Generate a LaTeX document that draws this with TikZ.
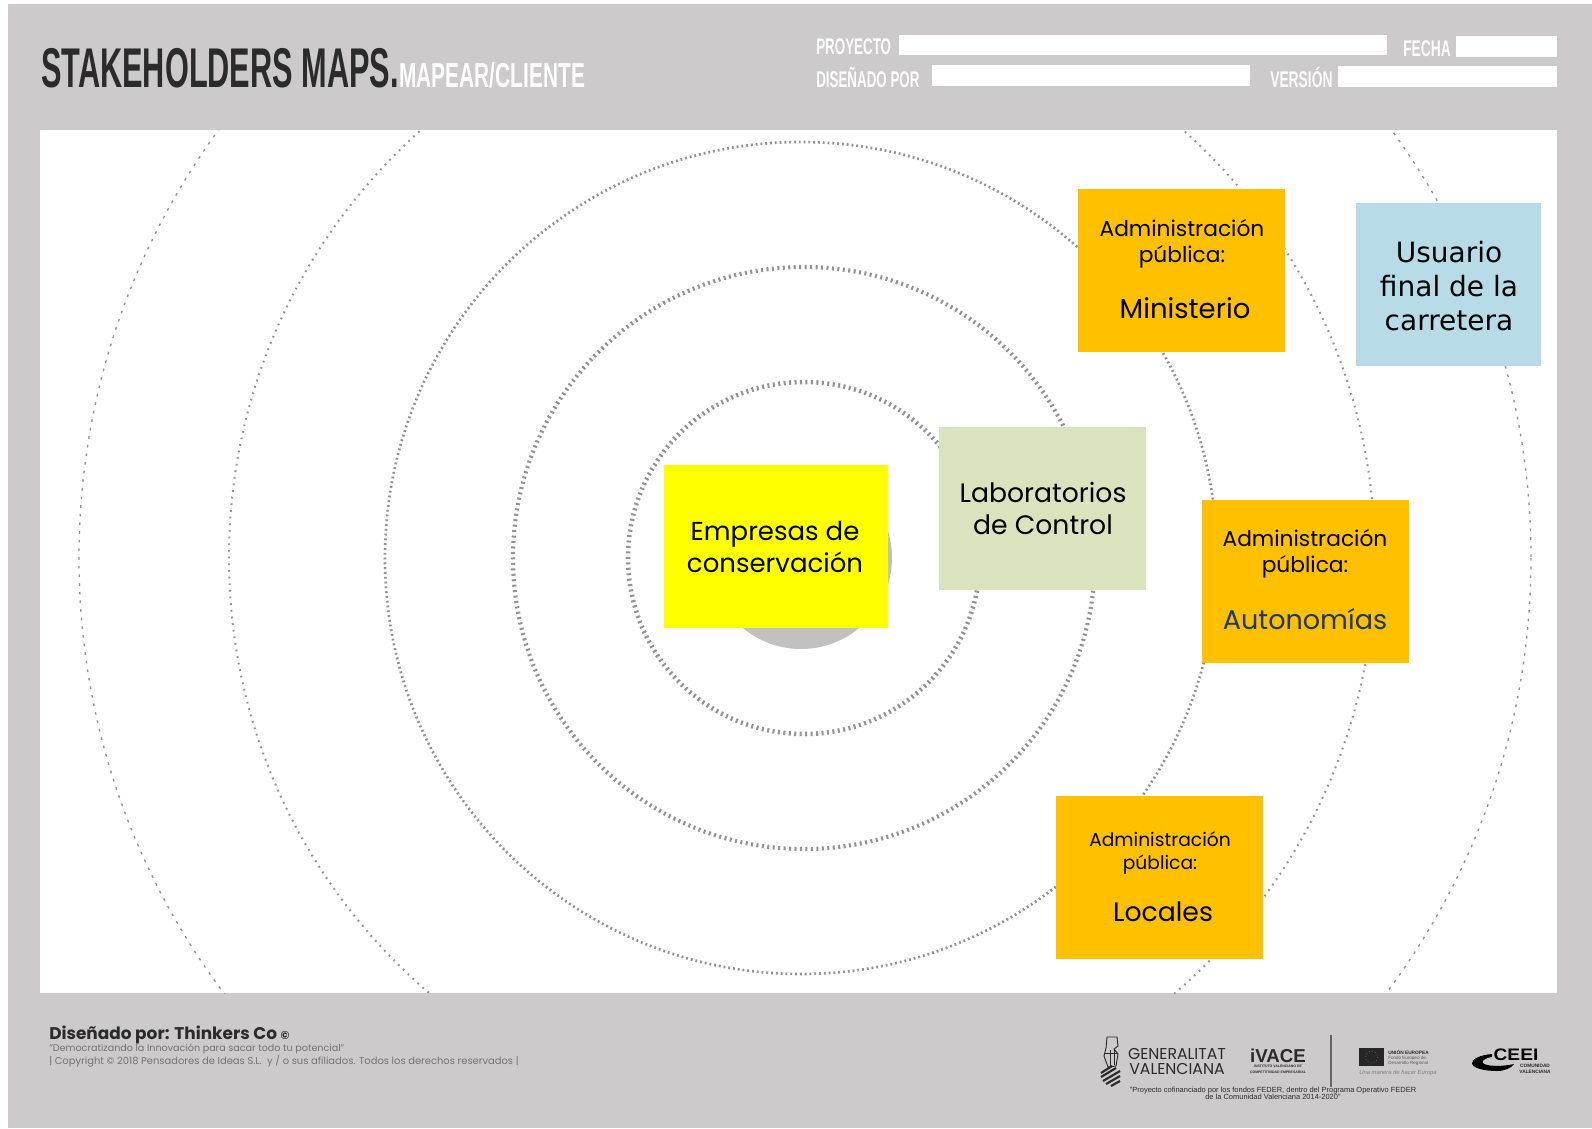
\documentclass[tikz,border=0pt]{standalone}
\usepackage{fontspec}
\usepackage{graphicx}
\usepackage{xcolor}
\setmainfont{Poppins}
\newfontfamily\headfont{Liberation Sans}[BoldFont={Liberation Sans Bold}]
\newfontfamily\usuariofont{DejaVu Sans}
\newfontfamily\smallfont{Liberation Sans}
\definecolor{panelgray}{HTML}{CCCACB}
\definecolor{ringgray}{HTML}{929292}
\definecolor{hubgray}{HTML}{C0C1C0}
\definecolor{notegold}{HTML}{FFC000}
\definecolor{notelemon}{HTML}{FFFF00}
\definecolor{notegreen}{HTML}{D9E4BF}
\definecolor{noteblue}{HTML}{B7DCE8}
\definecolor{autoblue}{HTML}{1F3864}
\definecolor{logodark}{HTML}{2B2B2B}
\newcommand{\squeezed}[3]{\scalebox{#1}[1]{\headfont\bfseries\fontsize{#2}{#2}\selectfont #3}}
\tikzset{
    fieldbox/.style={fill=white,draw=none},
    labeltext/.style={anchor=west,inner sep=0pt,text=white},
    notebox/.style={draw=none,inner sep=0pt,minimum width=155.25pt,minimum height=122.25pt},
    notetext/.style={inner sep=0pt,align=center,text=black},
    logotext/.style={inner sep=0pt,text=logodark},
}
\begin{document}
\begin{tikzpicture}[x=0.75pt,y=0.75pt,yscale=-1,xscale=1]
        \useasboundingbox (0,0) rectangle (1592,1128);
        \fill [panelgray] (8,4) rectangle (1592,1128);
        \fill [white] (40,130) rectangle (1557,993);

        \begin{scope}
        \clip (40,130) rectangle (1557,993);
        \draw [ringgray,line width=1pt,dash pattern=on 2pt off 4.5pt] (805,558) circle (726);
        \draw [ringgray,line width=1.5pt,dash pattern=on 1.3pt off 3.7pt] (802,558) circle (573);
        \draw [ringgray,line width=2pt,dash pattern=on 1.4pt off 2.2pt] (801,558) circle (416);
        \draw [ringgray,line width=3.1pt,dash pattern=on 1.5pt off 2.6pt] (804,558) circle (291);
        \draw [ringgray,line width=3.4pt,dash pattern=on 1.5pt off 2.6pt] (804,558) circle (176);
        \end{scope}
        \fill [hubgray] (801,558) circle (91);

        \node (titlemain) at (41,68) [anchor=west,inner sep=0pt,text=logodark] {\squeezed{0.548}{42pt}{STAKEHOLDERS MAPS.}};
        \node (titlesub) at (399,75) [anchor=west,inner sep=0pt,text=white] {\squeezed{0.603}{26pt}{MAPEAR/CLIENTE}};

        \fill [fieldbox] (899,35) rectangle (1387,55);
        \fill [fieldbox] (1456,36) rectangle (1557,57);
        \fill [fieldbox] (932,65) rectangle (1250,86);
        \fill [fieldbox] (1338,66) rectangle (1557,87);
        \node (proyecto) at (816,47) [labeltext] {\squeezed{0.59}{17pt}{PROYECTO}};
        \node (fecha) at (1403,49) [labeltext] {\squeezed{0.61}{17pt}{FECHA}};
        \node (disenado) at (816,78) [labeltext] {\squeezed{0.59}{17pt}{DISEÑADO POR}};
        \node (version) at (1270,78) [labeltext] {\squeezed{0.61}{17pt}{VERSIÓN}};

        \node (ministerio) at (1181.5,270.5) [notebox,fill=notegold] {};
        \node (usuario) at (1448.5,284.5) [notebox,fill=noteblue,minimum width=138.75pt] {};
        \node (laboratorios) at (1042.5,508.5) [notebox,fill=notegreen] {};
        \node (autonomias) at (1305.5,581.5) [notebox,fill=notegold] {};
        \node (locales) at (1159.5,877.5) [notebox,fill=notegold] {};
        \node (empresas) at (776,546.5) [notebox,fill=notelemon,minimum width=168pt] {};

        \node (ministeriohead) at (1182,244) [notetext,font=\fontsize{16.3pt}{19.5pt}\selectfont] {Administración\\pública:};
        \node (ministerioname) at (1185,308) [notetext,font=\fontsize{20.6pt}{24pt}\selectfont] {Ministerio};
        \node (usuarioname) at (1449,286.5) [notetext,font=\usuariofont\fontsize{21pt}{25.5pt}\selectfont] {Usuario\\final de la\\carretera};
        \node (laboratoriosname) at (1043,508) [notetext,font=\fontsize{20pt}{24pt}\selectfont] {Laboratorios\\de Control};
        \node (autonomiashead) at (1305,554) [notetext,font=\fontsize{16.3pt}{19.5pt}\selectfont] {Administración\\pública:};
        \node (autonomiasname) at (1305,619) [notetext,text=autoblue,font=\fontsize{20.3pt}{24pt}\selectfont] {Autonomías};
        \node (localeshead) at (1160,853) [notetext,font=\fontsize{14pt}{17.5pt}\selectfont] {Administración\\pública:};
        \node (localesname) at (1163,912) [notetext,font=\fontsize{20pt}{24pt}\selectfont] {Locales};
        \node (empresasname) at (775,547) [notetext,font=\fontsize{19.5pt}{24pt}\selectfont] {Empresas de\\conservación};

        \node (credit) at (49,1035) [anchor=west,logotext,font=\bfseries\fontsize{12.7pt}{14pt}\selectfont] {Diseñado por: Thinkers Co {\fontsize{8.5pt}{9pt}\selectfont ©}};
        \node (lema) at (49,1049) [anchor=west,inner sep=0pt,text=black!55,font=\fontsize{7.2pt}{8pt}\selectfont] {"Democratizando la Innovación para sacar todo tu potencial"};
        \node (copyright) at (49,1061) [anchor=west,inner sep=0pt,text=black!55,font=\fontsize{7.45pt}{8pt}\selectfont] {| Copyright © 2018 Pensadores de Ideas S.L.\ \ y / o sus afiliados. Todos los derechos reservados |};

        \draw [logodark,line width=0.7pt] (1107,1037) -- (1117,1037) -- (1118,1046) -- (1114,1049) -- (1118,1054) -- (1116,1066) -- (1108,1067) -- (1104,1056) -- (1106,1048) -- cycle;
        \draw [logodark,line width=0.7pt] (1110,1050) -- (1110,1066) (1114,1050) -- (1114,1065) (1104,1053) -- (1118,1053);
        \draw [logodark,line width=1.6pt] (1101,1073) -- (1112,1066) (1101,1077) -- (1116,1068) (1103,1081) -- (1120,1071) (1106,1084) -- (1120,1076) (1111,1086) -- (1120,1081);
        \node (generalitat) at (1177,1054) [logotext,font=\fontsize{11.8pt}{12pt}\selectfont] {GENERALITAT};
        \node (valenciana) at (1177,1069) [logotext,font=\fontsize{11.8pt}{12pt}\selectfont] {VALENCIANA};
        \node (ivace) at (1278,1056) [logotext,font=\headfont\bfseries\fontsize{14pt}{14pt}\selectfont] {iVACE};
        \node (ivaceone) at (1278,1066) [logotext,font=\headfont\bfseries\fontsize{2.6pt}{4pt}\selectfont] {INSTITUTO VALENCIANO DE};
        \node (ivacetwo) at (1278,1072) [logotext,font=\headfont\bfseries\fontsize{2.6pt}{4pt}\selectfont] {COMPETITIVIDAD EMPRESARIAL};
        \coordinate (ruletop) at (1331,1035);
        \coordinate (rulebottom) at (1331,1087);
        \draw [black!60,line width=0.9pt] (ruletop) -- (rulebottom);

        \fill [black!85] (1359,1048) rectangle (1384,1066);
        \draw [black!45,line width=0.4pt,dotted] (1371.5,1057) circle (6);
        \node (uniontext) at (1388,1052) [anchor=west,logotext,font=\headfont\bfseries\fontsize{3.6pt}{4pt}\selectfont] {UNIÓN EUROPEA};
        \node (fondotext) at (1388,1058) [anchor=west,inner sep=0pt,text=black!65,font=\smallfont\fontsize{3.4pt}{4pt}\selectfont] {Fondo Europeo de};
        \node (desarrollotext) at (1388,1063) [anchor=west,inner sep=0pt,text=black!65,font=\smallfont\fontsize{3.4pt}{4pt}\selectfont] {Desarrollo Regional};
        \node (manera) at (1359,1073) [anchor=west,inner sep=0pt,text=black!50,font=\smallfont\itshape\fontsize{4.4pt}{5pt}\selectfont] {Una manera de hacer Europa};

        \fill [black] (1492,1054) .. controls (1480,1055) and (1472,1059) .. (1472,1063) .. controls (1472,1068) and (1484,1071) .. (1497,1071) .. controls (1505,1071) and (1511,1068) .. (1514,1064) .. controls (1505,1066) and (1492,1067) .. (1484,1064) .. controls (1480,1062) and (1484,1058) .. (1492,1057) -- cycle;
        \node (ceei) at (1516,1055) [logotext,text=black,font=\headfont\bfseries\fontsize{12.5pt}{13pt}\selectfont] {\scalebox{1.15}[1]{CEEI}};
        \node (comunidad) at (1535,1066) [logotext,font=\headfont\bfseries\fontsize{3.6pt}{4pt}\selectfont] {COMUNIDAD};
        \node (valencianasmall) at (1535,1072) [logotext,font=\headfont\bfseries\fontsize{3.6pt}{4pt}\selectfont] {VALENCIANA};
        \node (feder) at (1273,1093.5) [logotext,align=center,font=\smallfont\fontsize{5.6pt}{5.4pt}\selectfont] {"Proyecto cofinanciado por los fondos FEDER, dentro del Programa Operativo FEDER\\de la Comunidad Valenciana 2014-2020"};
\end{tikzpicture}
\end{document}
